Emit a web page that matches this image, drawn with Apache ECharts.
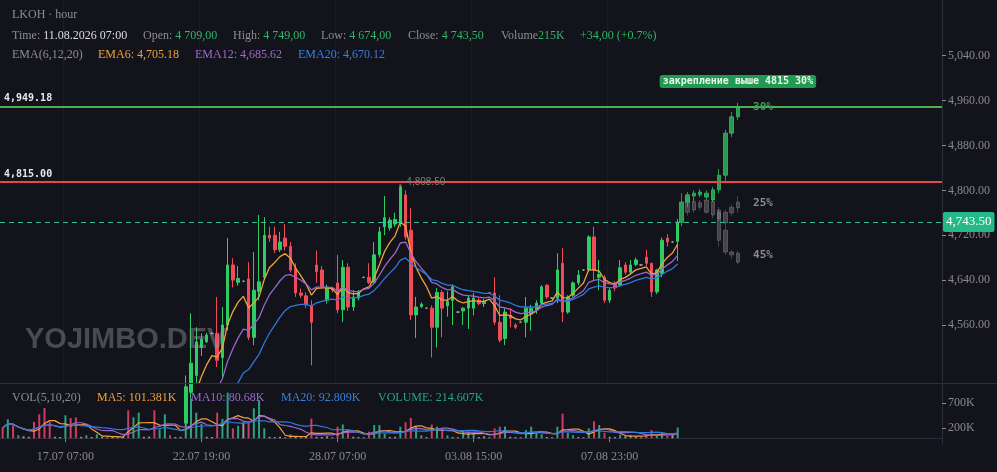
<!DOCTYPE html>
<html><head><meta charset="utf-8">
<script src="https://cdn.jsdelivr.net/npm/echarts@6/dist/echarts.min.js"></script>
<style>html,body{margin:0;padding:0;background:#12131b;}#c{width:997px;height:472px;}</style>
</head><body><div id="c"></div>
<script>
// ---------- DATA ----------
const SLOTS = 180;            // category slots on the time axis
const GHOST_SLOTS = 150;      // slots of the projection axis
const tickIdx = [12, 38, 64, 90, 116];
const tickLabels = ['17.07 07:00', '22.07 19:00', '28.07 07:00', '03.08 15:00', '07.08 23:00'];
const priceTicks = [4560, 4640, 4720, 4800, 4880, 4960, 5040];
const volTicks = [200000, 700000];

// [open, close, low, high]
const candles = [
[3885,3870,3862,3892],[3872,3890,3868,3896],[3895,3880,3874,3900],[3880,3900,3877,3905],[3900,3915,3896,3920],
[3915,3930,3910,3936],[3935,3920,3912,3942],[3922,3905,3898,3928],[3908,3890,3880,3912],[3915,3900,3892,3920],
[3900,3935,3898,3940],[3935,3960,3930,3966],[3958,3990,3950,3998],[4000,3985,3975,4008],[4020,4000,3992,4026],
[4000,4030,3996,4035],[4030,4050,4025,4056],[4050,4070,4046,4075],[4068,4095,4062,4100],[4095,4110,4090,4115],
[4110,4125,4105,4130],[4125,4150,4120,4155],[4150,4170,4145,4176],[4170,4190,4165,4195],[4215,4200,4188,4222],
[4200,4235,4195,4240],[4235,4265,4228,4272],[4265,4280,4260,4286],[4280,4300,4275,4306],[4305,4290,4282,4312],
[4290,4320,4286,4326],[4320,4345,4315,4352],[4350,4340,4332,4356],[4340,4360,4336,4366],[4360,4385,4355,4392],
[4385,4450,4380,4470],[4440,4492,4430,4581],[4470,4530,4455,4556],[4520,4535,4505,4545],[4530,4542,4528,4546],
[4545,4545,4543,4547],[4545,4497,4485,4610],[4502,4560,4467,4592],[4560,4667,4550,4715],[4667,4640,4627,4679],
[4636,4643,4630,4665],[4638,4638,4637,4639],[4642,4538,4533,4672],[4538,4622,4524,4690],[4620,4637,4604,4756],
[4645,4720,4640,4752],[4720,4715,4708,4735],[4720,4694,4688,4735],[4694,4708,4690,4726],[4715,4700,4693,4740],
[4700,4658,4654,4708],[4661,4617,4610,4670],[4617,4613,4608,4625],[4612,4596,4590,4618],[4595,4565,4488,4604],
[4667,4655,4635,4693],[4658,4628,4625,4665],[4604,4627,4598,4632],[4625,4622,4618,4628],[4635,4587,4581,4685],
[4587,4663,4565,4676],[4663,4592,4585,4670],[4592,4610,4585,4622],[4608,4618,4604,4622],[4645,4645,4644,4646],
[4645,4636,4633,4670],[4636,4685,4633,4708],[4685,4726,4680,4735],[4735,4751,4720,4790],[4733,4747,4728,4752],
[4740,4748,4735,4760],[4742,4806,4735,4808.5],[4792,4717,4712,4800],[4729,4578,4569,4769],[4578,4592,4537,4610],
[4593,4597,4590,4600],[4590,4590,4589,4591],[4590,4556,4502,4595],[4556,4618,4520,4626],[4618,4590,4538,4622],
[4594,4602,4575,4620],[4604,4628,4560,4632],[4583,4583,4582,4584],[4585,4590,4560,4592],[4590,4608,4553,4613],
[4590,4608,4577,4617],[4604,4598,4595,4608],[4598,4602,4592,4606],[4617,4617,4616,4618],[4617,4565,4560,4645],
[4565,4533,4529,4613],[4536,4583,4524,4590],[4577,4572,4556,4590],[4560,4556,4553,4563],[4565,4565,4564,4566],
[4565,4590,4538,4610],[4580,4590,4550,4596],[4587,4599,4580,4604],[4599,4628,4596,4631],[4631,4610,4606,4633],
[4608,4608,4607,4609],[4608,4658,4599,4688],[4670,4583,4565,4697],[4583,4610,4580,4613],[4613,4635,4610,4638],
[4635,4649,4631,4658],[4658,4658,4657,4659],[4658,4717,4655,4720],[4717,4658,4640,4735],[4645,4650,4622,4676],
[4645,4604,4599,4649],[4604,4622,4599,4626],[4635,4626,4620,4638],[4631,4662,4628,4676],[4667,4654,4650,4672],
[4654,4667,4650,4676],[4668,4676,4665,4680],[4667,4667,4666,4668],[4681,4670,4665,4694],[4670,4619,4610,4670],
[4619,4658,4615,4660],[4652,4711,4645,4716],[4715,4708,4700,4722],[4708,4708,4707,4709],[4709,4743.5,4674,4749]
];

// volume, thousands
const volumesK = [
206,380,260,60,40,30,326,480,606,326, 30,25,460,406,420,30,60,25,80,25,
20,25,20,30,560,420,513,30,35,560, 180,480,60,25,30,300,800,513,290,30,
25,513,390,913,200,250,320,330,600,760, 200,30,25,30,20,80,30,20,25,393,
30,25,40,20,233,276,170,30,25,20, 133,266,266,90,25,30,233,320,406,233,
60,25,276,233,200,60,25,20,165,140, 110,25,40,20,200,233,233,30,25,20,
165,233,110,80,25,20,233,493,110,60, 25,20,200,340,266,110,30,25,70,40,
60,30,20,80,165,60,95,52.298,85,214.607
];

// projection candles [open, close, low, high]
const ghostStart = 108;
const ghostUp = [
[4743,4779,4736,4795],[4779,4792,4770,4797],[4790,4795,4780,4800],[4792,4797,4788,4802],[4788,4795,4785,4800],
[4783,4801,4780,4806],[4801,4827,4795,4838],[4827,4902,4815,4908],[4902,4931,4895,4940],[4931,4947,4925,4956]
];
const ghostDownStart = 109;
const ghostDown = [
[4786,4761,4755,4790],[4780,4765,4760,4788],[4778,4770,4765,4783],[4783,4761,4758,4790],[4780,4756,4750,4790],
[4760,4711,4700,4765],[4729,4690,4685,4735],[4690,4685,4678,4693],[4688,4672,4668,4692]
];
const ghostSideStart = 114;
const ghostSide = [
[4750,4765,4745,4770],[4761,4742,4735,4766],[4760,4770,4755,4775],[4769,4779,4760,4790]
];

const levelHigh = 4949.18, levelBreak = 4815, lastPrice = 4743.5, maxHigh = 4808.5, maxIdx = 76;

// ---------- DERIVED ----------
const closes = candles.map(c => c[1]);
const volumes = volumesK.map(v => v * 1000);
function ema(src, n) {
  const k = 2 / (n + 1); let e = src[0];
  return src.map((v, i) => { e = i === 0 ? v : e + k * (v - e); return +e.toFixed(2); });
}
function ma(src, n) {
  return src.map((v, i) => { const s = src.slice(Math.max(0, i - n + 1), i + 1); return s.reduce((a, b) => a + b, 0) / s.length; });
}
const cats = Array.from({length: SLOTS}, (_, i) => String(i));
const gcats = Array.from({length: GHOST_SLOTS}, (_, i) => String(i));
const isTick = i => tickIdx.indexOf(i) >= 0;

const UP = '#2ecc64', DN = '#f04b57';
const VUP = '#2aa37e', VDN = '#cf3c62', VNEU = '#9a9a9a';
const volData = volumes.map((v, i) => {
  const c = candles[i];
  let col = c[1] > c[0] ? VUP : (c[1] < c[0] ? VDN : VNEU);
  if (v < 50000) col = VNEU;
  return {value: v, itemStyle: {color: col}};
});
const rowsAt = (start, rows) => rows.map((r, j) => [start + j].concat(r));

const SERIF = 'Liberation Serif', MONO = 'DejaVu Sans Mono';
const RICH = {
  g: {fill: '#8e8e8e', fontFamily: SERIF, fontSize: 12},
  w: {fill: '#dedede', fontFamily: SERIF, fontSize: 12},
  v: {fill: '#2fb765', fontFamily: SERIF, fontSize: 12},
  o: {fill: '#f0a238', fontFamily: SERIF, fontSize: 12},
  p: {fill: '#9c6bcf', fontFamily: SERIF, fontSize: 12},
  b: {fill: '#3a7fe0', fontFamily: SERIF, fontSize: 12},
  t: {fill: '#26a68e', fontFamily: SERIF, fontSize: 12}
};
const txt = (left, top, s) => ({type: 'text', left, top, z: 20, style: {text: s, rich: RICH, fontFamily: SERIF, fontSize: 12}});

const chart = echarts.init(document.getElementById('c'));
chart.setOption({
  animation: false,
  backgroundColor: '#12131b',
  grid: [
    {left: 0, top: 0, width: 942, height: 383},
    {left: 0, top: 383, width: 942, height: 61}
  ],
  xAxis: [
    {gridIndex: 0, type: 'category', data: cats, boundaryGap: true,
     axisLine: {show: false}, axisTick: {show: false}, axisLabel: {show: false},
     splitLine: {show: true, interval: i => isTick(i), lineStyle: {color: '#1b1d26', width: 1}}},
    {gridIndex: 1, type: 'category', data: cats, boundaryGap: true,
     axisLine: {show: true, lineStyle: {color: '#2c2f39'}},
     axisTick: {show: true, interval: i => isTick(i), alignWithLabel: true, length: 4, lineStyle: {color: '#7a7a7a'}},
     axisLabel: {show: true, interval: i => isTick(i), formatter: (v, i) => tickLabels[tickIdx.indexOf(+v)] || '',
       color: '#8a8a8a', fontFamily: SERIF, fontSize: 12, margin: 7},
     splitLine: {show: false}},
    {gridIndex: 0, type: 'category', data: gcats, boundaryGap: true, show: false}
  ],
  yAxis: [
    {gridIndex: 0, position: 'right', min: 4456.6, max: 5139.3, scale: true,
     axisLine: {show: true, lineStyle: {color: '#2c2f39'}},
     axisTick: {show: true, customValues: priceTicks, length: 4, lineStyle: {color: '#8a8a8a'}},
     axisLabel: {show: true, customValues: priceTicks, margin: 6, color: '#8a8a8a', fontFamily: SERIF, fontSize: 12,
       formatter: v => v.toLocaleString('en-US', {minimumFractionDigits: 2, maximumFractionDigits: 2})},
     splitLine: {show: false}},
    {gridIndex: 1, position: 'right', min: -114000, max: 1106000,
     axisLine: {show: true, lineStyle: {color: '#2c2f39'}},
     axisTick: {show: true, customValues: volTicks, length: 4, lineStyle: {color: '#8a8a8a'}},
     axisLabel: {show: true, customValues: volTicks, margin: 6, color: '#8a8a8a', fontFamily: SERIF, fontSize: 12,
       formatter: v => (v / 1000) + 'K'},
     splitLine: {show: false}}
  ],
  graphic: [
    {type: 'line', z: 5, shape: {x1: 0, y1: 383.5, x2: 997, y2: 383.5}, style: {stroke: '#2c2f39', lineWidth: 1}},
    {type: 'text', left: 25, top: 325, z: 30, silent: true,
     style: {text: 'YOJIMBO.DEV', fill: 'rgba(150,153,160,0.42)', fontFamily: 'Liberation Sans', fontWeight: 'bold', fontSize: 29}},
    txt(12, 9, '{g|LKOH · hour}'),
    txt(12, 30, '{g|Time: }{w|11.08.2026 07:00}'),
    txt(143, 30, '{g|Open: }{v|4 709,00}'),
    txt(233, 30, '{g|High: }{v|4 749,00}'),
    txt(321, 30, '{g|Low: }{v|4 674,00}'),
    txt(408, 30, '{g|Close: }{v|4 743,50}'),
    txt(501, 30, '{g|Volume}{v|215K}'),
    txt(580, 30, '{v|+34,00 (+0.7%)}'),
    txt(12, 49, '{g|EMA(6,12,20)}'),
    txt(98, 49, '{o|EMA6: 4,705.18}'),
    txt(195, 49, '{p|EMA12: 4,685.62}'),
    txt(298, 49, '{b|EMA20: 4,670.12}'),
    txt(12, 392, '{g|VOL(5,10,20)}'),
    txt(97, 392, '{o|MA5: 101.381K}'),
    txt(191, 392, '{p|MA10: 80.68K}'),
    txt(281, 392, '{b|MA20: 92.809K}'),
    txt(378, 392, '{t|VOLUME: 214.607K}')
  ],
  series: [
    {type: 'candlestick', name: 'LKOH', xAxisIndex: 0, yAxisIndex: 0, data: candles, barWidth: 3,
     itemStyle: {color: UP, color0: DN, borderColor: UP, borderColor0: DN, borderColorDoji: '#a8a8a8', borderWidth: 1},
     markLine: {silent: true, symbol: ['none', 'none'], animation: false,
       data: [
         {yAxis: levelHigh, lineStyle: {color: '#4caf50', width: 2, type: 'solid'},
          label: {show: true, position: 'insideStartTop', formatter: '4,949.18', color: '#e8e8e8', fontFamily: MONO, fontWeight: 'bold', fontSize: 10, distance: [4, 3]}},
         {yAxis: levelBreak, lineStyle: {color: '#e8474c', width: 2, type: 'solid'},
          label: {show: true, position: 'insideStartTop', formatter: '4,815.00', color: '#e8e8e8', fontFamily: MONO, fontWeight: 'bold', fontSize: 10, distance: [4, 3]}},
         {yAxis: lastPrice, lineStyle: {color: '#2ec08e', width: 1, type: [5, 4]},
          label: {show: true, position: 'end', formatter: '4,743.50', color: '#ffffff', backgroundColor: '#26b886', padding: [4, 3, 3, 3], borderRadius: 2, fontFamily: SERIF, fontSize: 13, distance: 1}}
       ]},
     markPoint: {silent: true, animation: false,
       data: [{coord: [maxIdx, maxHigh], symbol: 'rect', symbolSize: 2, itemStyle: {color: '#8a8a8a'},
         label: {show: true, position: 'right', distance: 5, offset: [0, -3], formatter: '4,808.50', color: '#7e7e7e', fontFamily: 'Liberation Sans', fontSize: 10}}]}
    },
    {type: 'line', name: 'EMA6', xAxisIndex: 0, yAxisIndex: 0, data: ema(closes, 6), symbol: 'none', lineStyle: {color: '#f2a23a', width: 1.3}, z: 3},
    {type: 'line', name: 'EMA12', xAxisIndex: 0, yAxisIndex: 0, data: ema(closes, 12), symbol: 'none', lineStyle: {color: '#9a66cc', width: 1.3}, z: 3},
    {type: 'line', name: 'EMA20', xAxisIndex: 0, yAxisIndex: 0, data: ema(closes, 20), symbol: 'none', lineStyle: {color: '#2f78dc', width: 1.3}, z: 3},
    {type: 'candlestick', name: 'scenario45', xAxisIndex: 2, yAxisIndex: 0, data: rowsAt(ghostDownStart, ghostDown),
     encode: {x: 0, y: [1, 2, 3, 4]}, barWidth: 4,
     itemStyle: {color: 'rgba(170,170,170,0.32)', color0: 'rgba(170,170,170,0.32)', borderColor: 'rgba(170,170,170,0.32)', borderColor0: 'rgba(170,170,170,0.32)'},
     markPoint: {silent: true, data: [{coord: [121, 4685], symbol: 'rect', symbolSize: 1, itemStyle: {color: 'transparent'},
       label: {show: true, position: 'inside', formatter: '45%', color: '#8d8d8d', fontFamily: MONO, fontWeight: 'bold', fontSize: 11}}]}},
    {type: 'candlestick', name: 'scenario25', xAxisIndex: 2, yAxisIndex: 0, data: rowsAt(ghostSideStart, ghostSide),
     encode: {x: 0, y: [1, 2, 3, 4]}, barWidth: 4,
     itemStyle: {color: 'rgba(170,170,170,0.32)', color0: 'rgba(170,170,170,0.32)', borderColor: 'rgba(170,170,170,0.32)', borderColor0: 'rgba(170,170,170,0.32)'},
     markPoint: {silent: true, data: [{coord: [121, 4777], symbol: 'rect', symbolSize: 1, itemStyle: {color: 'transparent'},
       label: {show: true, position: 'inside', formatter: '25%', color: '#8d8d8d', fontFamily: MONO, fontWeight: 'bold', fontSize: 11}}]}},
    {type: 'candlestick', name: 'scenario30', xAxisIndex: 2, yAxisIndex: 0, data: rowsAt(ghostStart, ghostUp),
     encode: {x: 0, y: [1, 2, 3, 4]}, barWidth: 4,
     itemStyle: {color: 'rgba(46,190,96,0.8)', color0: 'rgba(46,190,96,0.8)', borderColor: 'rgba(46,190,96,0.8)', borderColor0: 'rgba(46,190,96,0.8)'},
     markPoint: {silent: true, data: [
       {coord: [121, levelHigh], symbol: 'rect', symbolSize: 1, itemStyle: {color: 'transparent'},
        label: {show: true, position: 'inside', formatter: '30%', color: '#3f9a58', fontFamily: MONO, fontWeight: 'bold', fontSize: 11}},
       {coord: [117, 4994], symbol: 'rect', symbolSize: 1, itemStyle: {color: 'transparent'},
        label: {show: true, position: 'inside', formatter: 'закрепление выше 4815 30%', color: '#eaf6ec', backgroundColor: '#1f9a50',
          borderRadius: 3, padding: [2, 3, 1, 3], fontFamily: MONO, fontWeight: 'bold', fontSize: 10}}
     ]}},
    {type: 'bar', name: 'VOL', xAxisIndex: 1, yAxisIndex: 1, data: volData, barWidth: 2},
    {type: 'line', name: 'MA5', xAxisIndex: 1, yAxisIndex: 1, data: ma(volumes, 5), symbol: 'none', lineStyle: {color: '#f2a23a', width: 1.2}},
    {type: 'line', name: 'MA10', xAxisIndex: 1, yAxisIndex: 1, data: ma(volumes, 10), symbol: 'none', lineStyle: {color: '#9a66cc', width: 1.2}},
    {type: 'line', name: 'MA20', xAxisIndex: 1, yAxisIndex: 1, data: ma(volumes, 20), symbol: 'none', lineStyle: {color: '#2f78dc', width: 1.2}}
  ]
});
</script></body></html>
